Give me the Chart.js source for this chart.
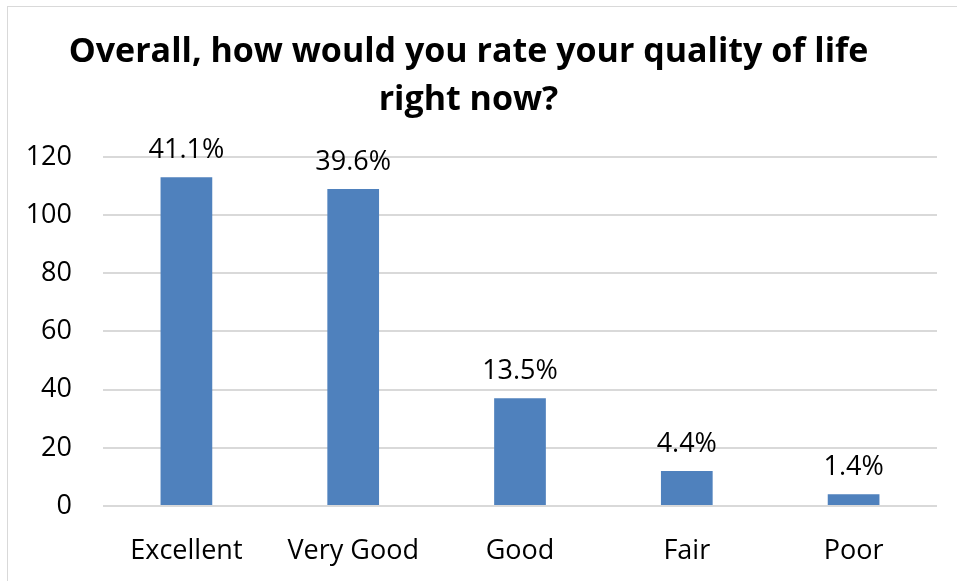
<!DOCTYPE html>
<html>
<head>
<meta charset="utf-8">
<script src="https://cdn.jsdelivr.net/npm/chart.js@4.4.0/dist/chart.umd.min.js"></script>
<style>
  html, body { margin: 0; padding: 0; background: #fff; }
  #wrap { position: relative; width: 957px; height: 581px; overflow: hidden; }
  #frame { position: absolute; left: 7px; top: 6px; width: 980px; height: 600px; border: 1px solid #d9d9d9; box-sizing: border-box; }
  #grafico { position: absolute; left: 0; top: 0; }
</style>
</head>
<body>
<div id="wrap">
  <div id="frame"></div>
  <canvas id="grafico" width="957" height="581"></canvas>
</div>
<script>
// respuestas por categoria
const categorias = ['Excellent', 'Very Good', 'Good', 'Fair', 'Poor'];
const respuestas = [113, 109, 37, 12, 4];
const porcentajes = ['41.1%', '39.6%', '13.5%', '4.4%', '1.4%'];
const ticksY = [0, 20, 40, 60, 80, 100, 120];

const fuente = "'Open Sans', 'Liberation Sans', sans-serif";

// etiquetas de porcentaje encima de cada barra
const etiquetasBarras = {
    id: 'etiquetasBarras',
    afterDatasetsDraw(chart) {
        const ctx = chart.ctx;
        const meta = chart.getDatasetMeta(0);
        ctx.save();
        ctx.font = '27px ' + fuente;
        ctx.fillStyle = '#000';
        ctx.textAlign = 'center';
        ctx.textBaseline = 'alphabetic';
        meta.data.forEach((bar, i) => {
            ctx.fillText(porcentajes[i], bar.x, bar.y - 19);
        });
        ctx.restore();
    }
};

document.addEventListener('DOMContentLoaded', function(){
    const ctx = document.getElementById('grafico').getContext('2d');
    new Chart(ctx, {
        type: 'bar',
        data: {
            labels: categorias,
            datasets: [{
                label: 'Respuestas',
                data: respuestas,
                backgroundColor: '#4f81bd',
                borderWidth: 0,
                categoryPercentage: 1,
                barPercentage: 0.31
            }]
        },
        options: {
            responsive: false,
            animation: false,
            layout: { padding: { left: 0, right: 20, top: 0, bottom: 0 } },
            plugins: {
                legend: { display: false },
                tooltip: { enabled: false },
                title: {
                    display: true,
                    text: ['Overall, how would you rate your quality of life', 'right now?'],
                    color: '#000',
                    font: { family: fuente, size: 34, weight: 'bold', lineHeight: 1.41 },
                    padding: { top: 28, bottom: 33 }
                }
            },
            scales: {
                x: {
                    grid: { display: false },
                    border: { display: false },
                    ticks: {
                        color: '#000',
                        font: { family: fuente, size: 27 },
                        padding: 21,
                        maxRotation: 0
                    },
                    afterFit: s => { s.height = 75; }
                },
                y: {
                    min: 0,
                    max: 120,
                    afterBuildTicks: s => { s.ticks = ticksY.map(v => ({ value: v })); },
                    grid: { color: '#d9d9d9', lineWidth: 2, drawTicks: false },
                    border: { display: false },
                    ticks: {
                        color: '#000',
                        font: { family: fuente, size: 27 },
                        padding: 31
                    },
                    afterFit: s => { s.width = 103; }
                }
            }
        },
        plugins: [etiquetasBarras]
    });
});
</script>
</body>
</html>
